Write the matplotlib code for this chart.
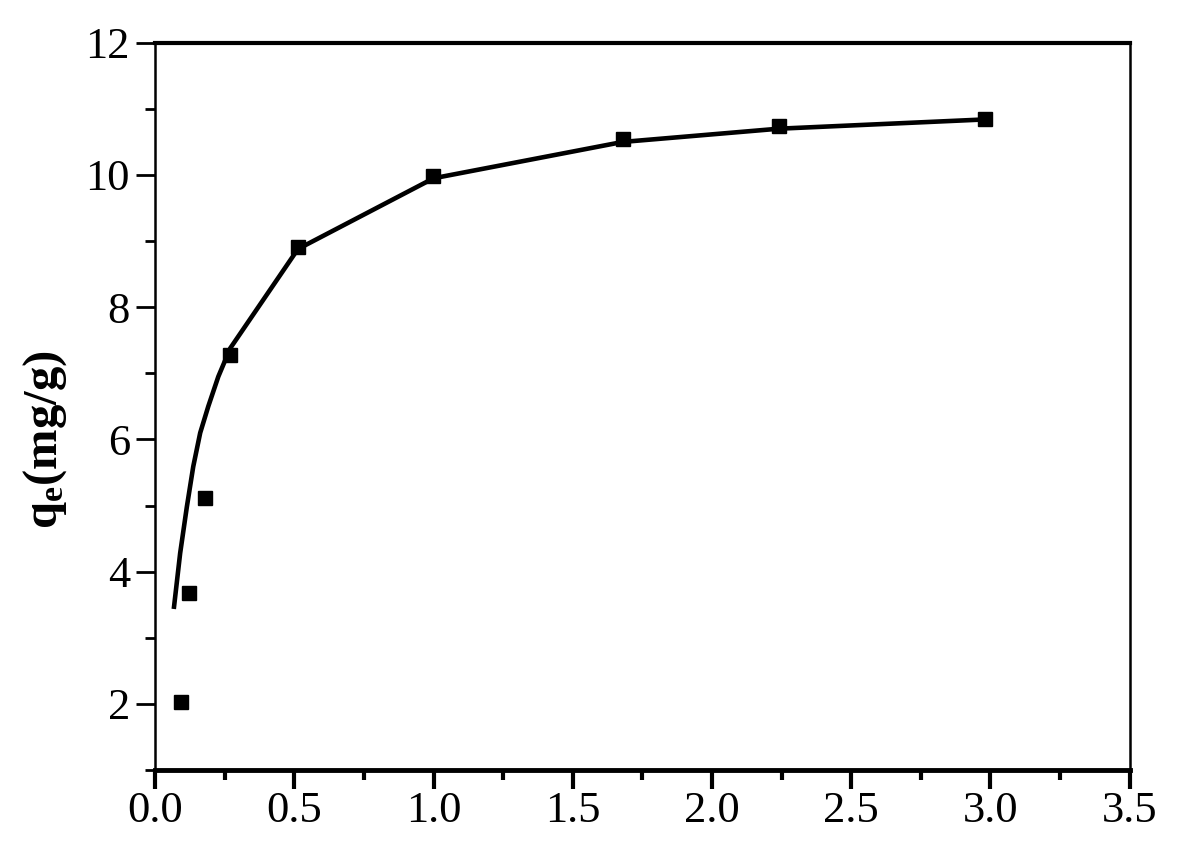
import matplotlib
matplotlib.use("Agg")
import matplotlib.pyplot as plt
from matplotlib.ticker import MultipleLocator

# measured points
ce = [0.093, 0.122, 0.179, 0.269, 0.513, 0.997, 1.68, 2.24, 2.98]
qe = [2.03, 3.68, 5.12, 7.28, 8.91, 9.99, 10.55, 10.74, 10.85]

# fitted curve
fit_x = [0.068, 0.09, 0.114, 0.137, 0.162, 0.191, 0.227, 0.27, 0.513, 1.0, 1.68, 2.24, 2.98]
fit_y = [3.47, 4.28, 4.98, 5.59, 6.10, 6.50, 6.95, 7.38, 8.88, 9.95, 10.5, 10.7, 10.84]

x_ticks = [0.0, 0.5, 1.0, 1.5, 2.0, 2.5, 3.0, 3.5]
y_ticks = [2, 4, 6, 8, 10, 12]

plt.rcParams['font.family'] = ['Liberation Serif', 'DejaVu Serif']
plt.rcParams['mathtext.fontset'] = 'custom'
plt.rcParams['mathtext.rm'] = 'Liberation Serif'
plt.rcParams['mathtext.it'] = 'Liberation Serif:italic'
plt.rcParams['mathtext.bf'] = 'Liberation Serif:bold'

fig = plt.figure(figsize=(11.84, 8.55), dpi=100)
ax = fig.add_axes([0.131, 0.0994, 0.823, 0.8506])

ax.plot(fit_x, fit_y, color='black', lw=3.3, zorder=2)
ax.plot(ce, qe, linestyle='none', marker='s', ms=9.5, color='black', zorder=3)

ax.set_xlim(0, 3.5)
ax.set_ylim(1, 12)
ax.set_xticks(x_ticks)
ax.set_xticklabels(['%.1f' % v for v in x_ticks])
ax.set_yticks(y_ticks)
ax.xaxis.set_minor_locator(MultipleLocator(0.25))
ax.yaxis.set_minor_locator(MultipleLocator(1))

ax.tick_params(axis='x', which='major', direction='out', length=14, width=3,
               labelsize=32, pad=1)
ax.tick_params(axis='x', which='minor', direction='out', length=7, width=3)
ax.tick_params(axis='y', which='major', direction='out', length=14, width=2,
               labelsize=32, pad=4)
ax.tick_params(axis='y', which='minor', direction='out', length=7, width=2)

ax.spines['bottom'].set_linewidth(3.5)
ax.spines['top'].set_linewidth(3)
ax.spines['left'].set_linewidth(1.8)
ax.spines['right'].set_linewidth(1.8)

ax.set_ylabel(r'$\mathbf{q_e}$(mg/g)', fontsize=35, fontweight='bold')
ax.yaxis.set_label_coords(-0.088, 0.454)

fig.savefig('out.png', dpi=100)
